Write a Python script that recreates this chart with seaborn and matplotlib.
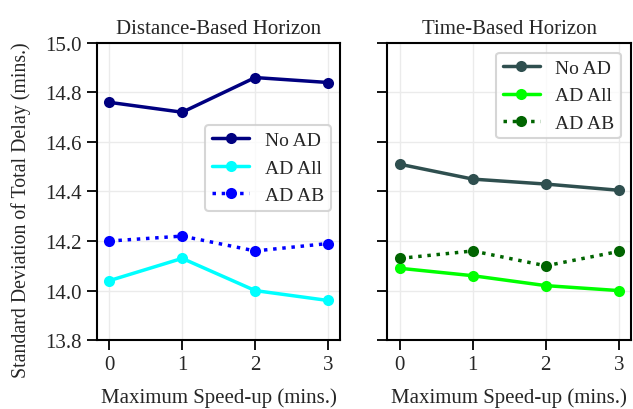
import numpy as np
import pandas as pd
import matplotlib
matplotlib.use("Agg")
import matplotlib.pyplot as plt
import seaborn as sns

# Data
speedup = [0, 1, 2, 3]
series = ["No AD", "AD All", "AD AB"]

dist_no_ad = [14.76, 14.72, 14.86, 14.84]
dist_ad_all = [14.04, 14.13, 14.00, 13.96]
dist_ad_ab = [14.20, 14.22, 14.16, 14.19]

time_no_ad = [14.51, 14.45, 14.43, 14.405]
time_ad_all = [14.09, 14.06, 14.02, 14.00]
time_ad_ab = [14.13, 14.16, 14.10, 14.158]

sns.set_theme(style="whitegrid")
plt.rcParams['font.family'] = ['Liberation Serif', 'DejaVu Serif']
plt.rcParams['font.size'] = 15

fig, axes = plt.subplots(1, 2, figsize=(6.33, 4.10), dpi=100, sharey=True)

panels = [
    ("Distance-Based Horizon", [dist_no_ad, dist_ad_all, dist_ad_ab],
     ["navy", "cyan", "blue"], "center right", (1.0, 0.58)),
    ("Time-Based Horizon", [time_no_ad, time_ad_all, time_ad_ab],
     ["darkslategray", "lime", "darkgreen"], "upper right", (1.0, 1.0)),
]

for ax, (title, vals, colors, loc, anchor) in zip(axes, panels):
    df = pd.DataFrame({"x": speedup * 3,
                       "y": vals[0] + vals[1] + vals[2],
                       "s": np.repeat(series, len(speedup))})
    for name, c, ls in zip(series, colors, ["-", "-", ":"]):
        sub = df[df["s"] == name]
        sns.lineplot(data=sub, x="x", y="y", ax=ax, color=c, linestyle=ls,
                     linewidth=2.5, marker="o", markersize=8,
                     markeredgewidth=0, label=name)
    ax.set_title(title, fontsize=15, pad=7)
    ax.set_xlabel("Maximum Speed-up (mins.)", fontsize=15, labelpad=9)
    ax.set_ylabel("")
    ax.set_xticks(speedup)
    ax.set_xlim(-0.17, 3.17)
    ax.set_ylim(13.8, 15.0)
    ax.set_yticks([13.8, 14.0, 14.2, 14.4, 14.6, 14.8, 15.0])
    ax.grid(True, color="#ebebeb", linewidth=1)
    for sp in ax.spines.values():
        sp.set_color("black")
        sp.set_linewidth(1.5)
    ax.tick_params(axis="both", which="both", direction="out", length=7,
                   width=1.3, color="black", bottom=True, left=True,
                   labelsize=15, pad=4)
    leg = ax.legend(loc=loc, bbox_to_anchor=anchor, fontsize=14, frameon=True,
                    framealpha=0.8, edgecolor="#cccccc", handlelength=1.9,
                    borderpad=0.35)
    leg.get_frame().set_linewidth(1.5)

axes[0].set_ylabel("Standard Deviation of Total Delay (mins.)", fontsize=14.3)
axes[0].yaxis.set_label_coords(-0.27, 0.44)
axes[1].tick_params(axis="y", labelleft=False)

fig.subplots_adjust(left=0.153, right=0.997, bottom=0.168, top=0.893, wspace=0.193)
fig.savefig("out.png", dpi=100)
